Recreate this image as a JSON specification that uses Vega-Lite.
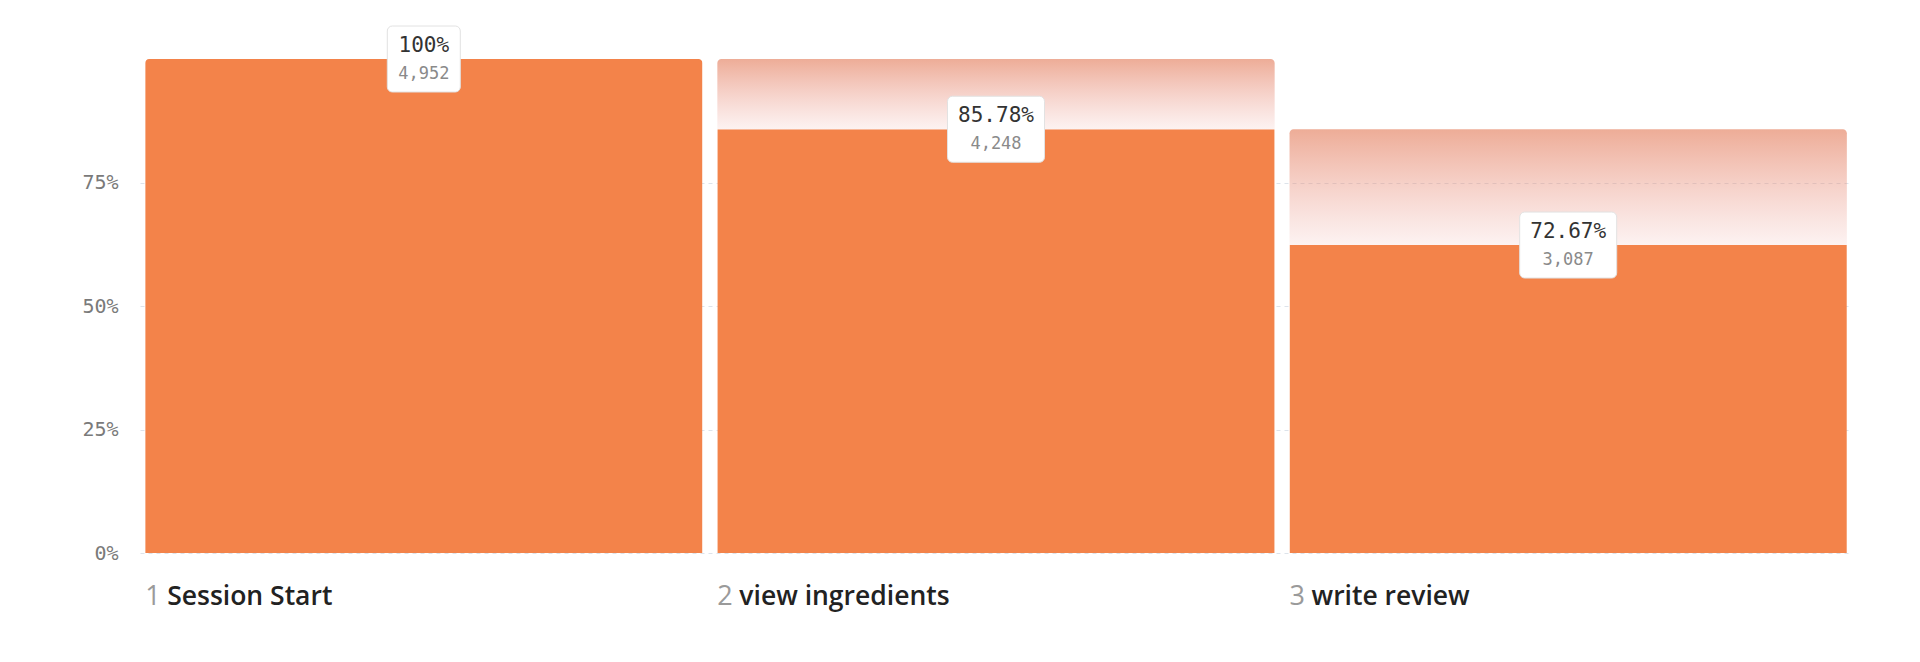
{
  "$schema": "https://vega.github.io/schema/vega-lite/v6.json",
  "description": "Funnel: Session Start -> view ingredients -> write review",
  "width": 1712,
  "height": 494,
  "autosize": {"type": "none"},
  "padding": {"left": 140, "top": 59, "right": 68, "bottom": 109},
  "background": "white",
  "config": {"view": {"stroke": null}},
  "data": {
    "values": [
      {"step": 1, "name": "Session Start", "count": 4952, "overall": 1.0, "prev": 1.0, "conv": "100%"},
      {"step": 2, "name": "view ingredients", "count": 4248, "overall": 0.8578, "prev": 1.0, "conv": "85.78%"},
      {"step": 3, "name": "write review", "count": 3087, "overall": 0.6234, "prev": 0.8578, "conv": "72.67%"}
    ]
  },
  "encoding": {
    "x": {
      "field": "step",
      "type": "ordinal",
      "axis": null,
      "scale": {"paddingInner": 0.026, "paddingOuter": 0.009}
    }
  },
  "layer": [
    {
      "mark": {
        "type": "bar",
        "color": "#F3834A",
        "cornerRadiusTopLeft": {"expr": "datum.step == 1 ? 4 : 0"},
        "cornerRadiusTopRight": {"expr": "datum.step == 1 ? 4 : 0"}
      },
      "encoding": {
        "y": {
          "field": "overall",
          "type": "quantitative",
          "scale": {"domain": [0, 1]},
          "axis": {
            "title": null,
            "values": [0, 0.25, 0.5, 0.75],
            "format": "%",
            "domain": false,
            "ticks": false,
            "labelPadding": 22,
            "labelFont": "DejaVu Sans Mono",
            "labelFontSize": 20,
            "labelColor": "#7a7a7a",
            "gridColor": "#dde3ea",
            "gridDash": [4, 4]
          }
        }
      }
    },
    {
      "mark": {
        "type": "bar",
        "cornerRadiusTopLeft": 4,
        "cornerRadiusTopRight": 4,
        "color": {
          "gradient": "linear",
          "x1": 0, "y1": 0, "x2": 0, "y2": 1,
          "stops": [
            {"offset": 0, "color": "rgba(228,128,95,0.65)"},
            {"offset": 1, "color": "rgba(235,150,140,0.12)"}
          ]
        }
      },
      "encoding": {
        "y": {"field": "prev", "type": "quantitative"},
        "y2": {"field": "overall"}
      }
    },
    {
      "mark": {
        "type": "rect",
        "fill": "white",
        "stroke": "#e2e2e2",
        "strokeWidth": 1,
        "cornerRadius": 5,
        "width": {"expr": "12 * length(datum.conv) + 25"},
        "yOffset": -33,
        "y2Offset": 33
      },
      "encoding": {
        "y": {"field": "overall", "type": "quantitative"},
        "y2": {"field": "overall"}
      }
    },
    {
      "mark": {
        "type": "text",
        "font": "DejaVu Sans Mono",
        "fontSize": 21,
        "color": "#333333",
        "baseline": "alphabetic",
        "dy": -7
      },
      "encoding": {
        "y": {"field": "overall", "type": "quantitative"},
        "text": {"field": "conv", "type": "nominal"}
      }
    },
    {
      "mark": {
        "type": "text",
        "font": "DejaVu Sans Mono",
        "fontSize": 17,
        "color": "#8a8a8a",
        "baseline": "alphabetic",
        "dy": 20
      },
      "encoding": {
        "y": {"field": "overall", "type": "quantitative"},
        "text": {"field": "count", "type": "quantitative", "format": ","}
      }
    },
    {
      "mark": {
        "type": "text",
        "font": "Open Sans",
        "fontSize": 27,
        "color": "#9a9a9a",
        "align": "left",
        "baseline": "alphabetic",
        "dy": 52
      },
      "encoding": {
        "x": {"field": "step", "type": "ordinal", "bandPosition": 0},
        "y": {"datum": 0, "type": "quantitative"},
        "text": {"field": "step", "type": "nominal"}
      }
    },
    {
      "mark": {
        "type": "text",
        "font": "Open Sans",
        "fontSize": 26.5,
        "fontWeight": 600,
        "color": "#222222",
        "align": "left",
        "baseline": "alphabetic",
        "dx": 22,
        "dy": 52
      },
      "encoding": {
        "x": {"field": "step", "type": "ordinal", "bandPosition": 0},
        "y": {"datum": 0, "type": "quantitative"},
        "text": {"field": "name", "type": "nominal"}
      }
    }
  ]
}
